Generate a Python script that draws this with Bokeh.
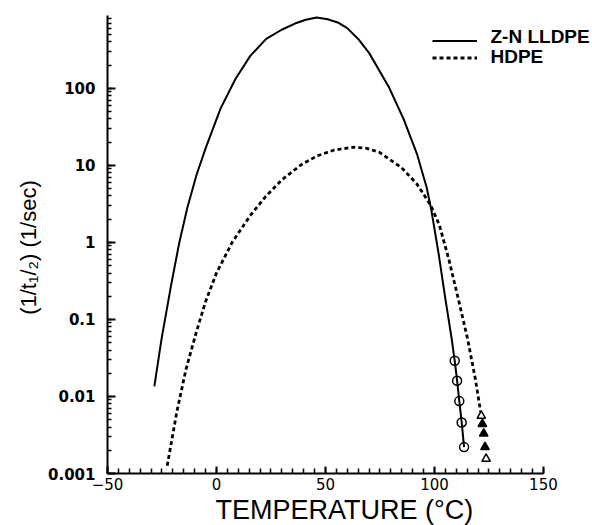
from bokeh.plotting import figure
from bokeh.models import (Range1d, FixedTicker, CustomJSTickFormatter, Legend,
                          LegendItem, Label, Title)
from bokeh.embed import file_html
from bokeh.resources import INLINE

# ---- data ----
zn_temp = [-28.5, -25.2, -21, -17.2, -13.4, -9.1, -5, 1.8, 8.7, 15.5, 22.8,
           29.9, 36, 41, 46, 51, 56, 60, 65, 70, 79, 86, 92, 96.4, 98.5, 102,
           105, 108, 109.3, 110.4, 111.4, 112.5, 113.6]
zn_rate = [0.0135, 0.056, 0.26, 0.95, 2.8, 7.6, 16.6, 54, 132, 263, 437,
           575, 692, 776, 830, 785, 708, 603, 437, 288, 105, 39, 14, 5.2, 2.7,
           0.69, 0.186, 0.054, 0.029, 0.016, 0.0087, 0.0046, 0.0022]

zn_exp_temp = [109.3, 110.4, 111.4, 112.5, 113.6]
zn_exp_rate = [0.029, 0.016, 0.0087, 0.0046, 0.0022]

hd_temp = [-22.6, -18.2, -14, -9.3, -5, 0, 7.2, 15.3, 22.4, 30.3, 38.5, 46,
           54, 63, 69, 74.6, 84.8, 92, 98.1, 102.2, 106.5, 110.9, 115.2,
           118.8, 121.2]
hd_rate = [0.00126, 0.0063, 0.0224, 0.0676, 0.17, 0.40, 1.0, 2.19, 3.89, 6.6,
           10, 13.2, 15.8, 17.2, 16.6, 14.8, 9.4, 5.7, 3.1, 1.7, 0.62, 0.187,
           0.056, 0.0167, 0.0063]

hd_open_temp = [121.5, 123.7]
hd_open_rate = [0.0056, 0.00155]
hd_fill_temp = [122.0, 122.6, 123.2]
hd_fill_rate = [0.0044, 0.0033, 0.0022]

series_labels = ["Z-N LLDPE", "HDPE"]
x_major = [-50, 0, 50, 100, 150]
x_minor = list(range(-50, 151, 5))
y_major = [0.001, 0.01, 0.1, 1, 10, 100]
y_minor = [m * 10.0 ** e for e in range(-3, 3) for m in range(1, 10)]

FONT = "Liberation Sans"

# frame runs to the right edge so the legend text is not clipped;
# the x axis itself is bounded to -50..150
p = figure(width=590, height=525, y_axis_type="log",
           x_range=Range1d(-50, 171.6), y_range=Range1d(0.001, 880),
           output_backend="svg", toolbar_location=None,
           min_border_left=107, min_border_right=0, min_border_top=15,
           min_border_bottom=52)
p.outline_line_color = None
p.grid.visible = False
p.background_fill_color = "white"
p.border_fill_color = "white"

zn_line = p.line(zn_temp, zn_rate, line_color="black", line_width=2)
hd_line = p.line(hd_temp, hd_rate, line_color="black", line_width=2.8,
                 line_dash="4 3")
p.scatter(zn_exp_temp, zn_exp_rate, marker="circle", size=9,
          fill_color=None, line_color="black", line_width=1.5)
p.scatter(hd_open_temp, hd_open_rate, marker="triangle", size=8.5,
          fill_color="white", line_color="black", line_width=1.5)
p.scatter(hd_fill_temp, hd_fill_rate, marker="triangle", size=8.5,
          fill_color="black", line_color="black", line_width=1.5)

legend = Legend(items=[LegendItem(label=" ", renderers=[zn_line]),
                       LegendItem(label=" ", renderers=[hd_line])],
                location=(325, 407), glyph_width=45, glyph_height=17,
                label_height=17, label_width=1, label_standoff=0, spacing=0,
                padding=0, margin=0, border_line_color=None,
                background_fill_alpha=0, label_text_font_size="2px")
p.add_layout(legend, "center")
for txt, ypos in zip(series_labels, [437, 417]):
    p.add_layout(Label(x=383, y=ypos, x_units="screen", y_units="screen",
                       text=txt, text_font=FONT, text_font_style="bold",
                       text_font_size="19px", text_baseline="middle",
                       text_align="left", text_color="black"))

for ax in (p.xaxis[0], p.yaxis[0]):
    ax.axis_line_width = 2
    ax.axis_line_color = "black"
    ax.major_tick_line_width = 2
    ax.minor_tick_line_width = 1.5
    ax.major_tick_line_color = "black"
    ax.minor_tick_line_color = "black"
    ax.major_tick_out = 0
    ax.minor_tick_out = 0
    ax.major_label_text_color = "black"
    ax.axis_label_text_color = "black"
    ax.axis_label_text_font_style = "normal"

xa = p.xaxis[0]
xa.bounds = (-50, 150)
xa.ticker = FixedTicker(ticks=x_major, minor_ticks=x_minor)
xa.major_label_overrides = {-50: "\u221250"}
xa.major_tick_in = 7
xa.minor_tick_in = 5
xa.major_label_text_font = "DejaVu Sans"
xa.major_label_text_font_size = "15px"
xa.major_label_standoff = 4

p.add_layout(Title(text="TEMPERATURE  (\u00b0C)", align="left", offset=108,
                   standoff=0, text_font=FONT, text_font_size="27px",
                   text_font_style="normal", text_color="black"), "below")

ya = p.yaxis[0]
ya.ticker = FixedTicker(ticks=y_major, minor_ticks=y_minor)
ya.formatter = CustomJSTickFormatter(code="""
    if (tick >= 1) { return tick.toFixed(0); }
    return parseFloat(tick.toPrecision(1)).toString();
""")
ya.major_tick_in = 8
ya.minor_tick_in = 4
ya.major_label_text_font = "DejaVu Sans"
ya.major_label_text_font_style = "bold"
ya.major_label_text_font_size = "15px"
ya.major_label_standoff = 12
ya.axis_label = "(1/t\u2081/\u2082)  (1/sec)"
ya.axis_label_text_font = FONT
ya.axis_label_text_font_size = "22px"
ya.axis_label_standoff = 4

open("out.html", "w").write(file_html(p, INLINE))
